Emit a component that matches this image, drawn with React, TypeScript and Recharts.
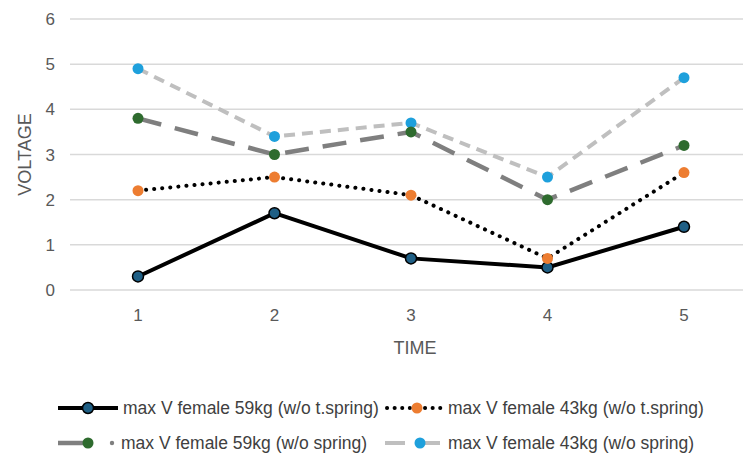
import React from 'react';
import { LineChart, Line, XAxis, YAxis, CartesianGrid } from 'recharts';

const times = ['1', '2', '3', '4', '5'];
const female59NoTSpring = [0.3, 1.7, 0.7, 0.5, 1.4];
const female43NoTSpring = [2.2, 2.5, 2.1, 0.7, 2.6];
const female59NoSpring = [3.8, 3.0, 3.5, 2.0, 3.2];
const female43NoSpring = [4.9, 3.4, 3.7, 2.5, 4.7];
const yTicks = [0, 1, 2, 3, 4, 5, 6];

const seriesNames = [
  'max V female 59kg (w/o t.spring)',
  'max V female 43kg (w/o t.spring)',
  'max V female 59kg (w/o spring)',
  'max V female 43kg (w/o spring)',
];

const data = times.map((t, i) => ({
  time: t,
  s1: female59NoTSpring[i],
  s2: female43NoTSpring[i],
  s3: female59NoSpring[i],
  s4: female43NoSpring[i],
}));

const FONT = '"Liberation Sans", Arial, sans-serif';
const TXT = '#404040';

const LegendBlock = () => {
  const textStyle: React.CSSProperties = { fontFamily: FONT, fontSize: 17.5, fill: TXT };
  const r1 = 18;
  const r2 = 53;
  return (
    <svg width={743} height={70} style={{ display: 'block' }}>
      {/* row 1 */}
      <line x1={58} y1={r1} x2={118} y2={r1} stroke="#000" strokeWidth={4} />
      <circle cx={88} cy={r1} r={5.5} fill="#1f5f85" stroke="#000" strokeWidth={1.5} />
      <text x={123} y={r1 + 6} style={textStyle}>{seriesNames[0]}</text>
      <line x1={387} y1={r1} x2={441} y2={r1} stroke="#000" strokeWidth={4} strokeDasharray="0.1 7.5" strokeLinecap="round" />
      <circle cx={417} cy={r1} r={5.5} fill="#ed7d31" />
      <text x={448} y={r1 + 6} style={textStyle}>{seriesNames[1]}</text>
      {/* row 2 */}
      <line x1={58} y1={r2} x2={86} y2={r2} stroke="#7f7f7f" strokeWidth={4.5} />
      <circle cx={88} cy={r2} r={5.5} fill="#2e6b2e" />
      <circle cx={112} cy={r2} r={2.2} fill="#7f7f7f" />
      <text x={121} y={r2 + 6} style={textStyle}>{seriesNames[2]}</text>
      <line x1={385} y1={r2} x2={405} y2={r2} stroke="#bfbfbf" strokeWidth={4} />
      <line x1={425} y1={r2} x2={440} y2={r2} stroke="#bfbfbf" strokeWidth={4} />
      <circle cx={420} cy={r2} r={5.5} fill="#1ea0dc" />
      <text x={448} y={r2 + 6} style={textStyle}>{seriesNames[3]}</text>
    </svg>
  );
};

export default function App() {
  return (
    <div style={{ position: 'absolute', left: 0, top: 0, width: 743, height: 457, overflow: 'hidden', background: '#fff' }}>
      <LineChart width={760} height={457} data={data} margin={{ top: 19, right: 0, bottom: 137, left: 0 }}>
        <CartesianGrid vertical={false} stroke="#d9d9d9" strokeWidth={1.5} />
        <XAxis
          dataKey="time"
          axisLine={false}
          tickLine={false}
          tickMargin={13}
          padding={{ left: 68, right: 76 }}
          tick={{ fontFamily: FONT, fontSize: 17, fill: '#595959' }}
          label={{ value: 'TIME', position: 'insideBottom', offset: -34, style: { fontFamily: FONT, fontSize: 18, fill: '#595959' } }}
        />
        <YAxis
          domain={[0, 6]}
          ticks={yTicks}
          width={70}
          axisLine={false}
          tickLine={false}
          tickMargin={9}
          tick={{ fontFamily: FONT, fontSize: 17, fill: '#595959' }}
          label={{ value: 'VOLTAGE', angle: -90, position: 'insideLeft', offset: 25, style: { fontFamily: FONT, fontSize: 18, fill: '#595959', textAnchor: 'middle' } }}
        />
        <Line dataKey="s4" name={seriesNames[3]} stroke="#bfbfbf" strokeWidth={4} strokeDasharray="11 7" dot={{ r: 5.5, fill: '#1ea0dc', stroke: 'none' }} isAnimationActive={false} />
        <Line dataKey="s3" name={seriesNames[2]} stroke="#7f7f7f" strokeWidth={4.5} strokeDasharray="24 14" dot={{ r: 5.5, fill: '#2e6b2e', stroke: 'none' }} isAnimationActive={false} />
        <Line dataKey="s1" name={seriesNames[0]} stroke="#000" strokeWidth={4} dot={{ r: 5.5, fill: '#1f5f85', stroke: '#000', strokeWidth: 1.5 }} isAnimationActive={false} />
        <Line dataKey="s2" name={seriesNames[1]} stroke="#000" strokeWidth={4} strokeDasharray="0.1 8" strokeLinecap="round" dot={{ r: 5.5, fill: '#ed7d31', stroke: 'none' }} isAnimationActive={false} />
      </LineChart>
      <div style={{ position: 'absolute', left: 0, top: 390 }}>
        <LegendBlock />
      </div>
    </div>
  );
}
